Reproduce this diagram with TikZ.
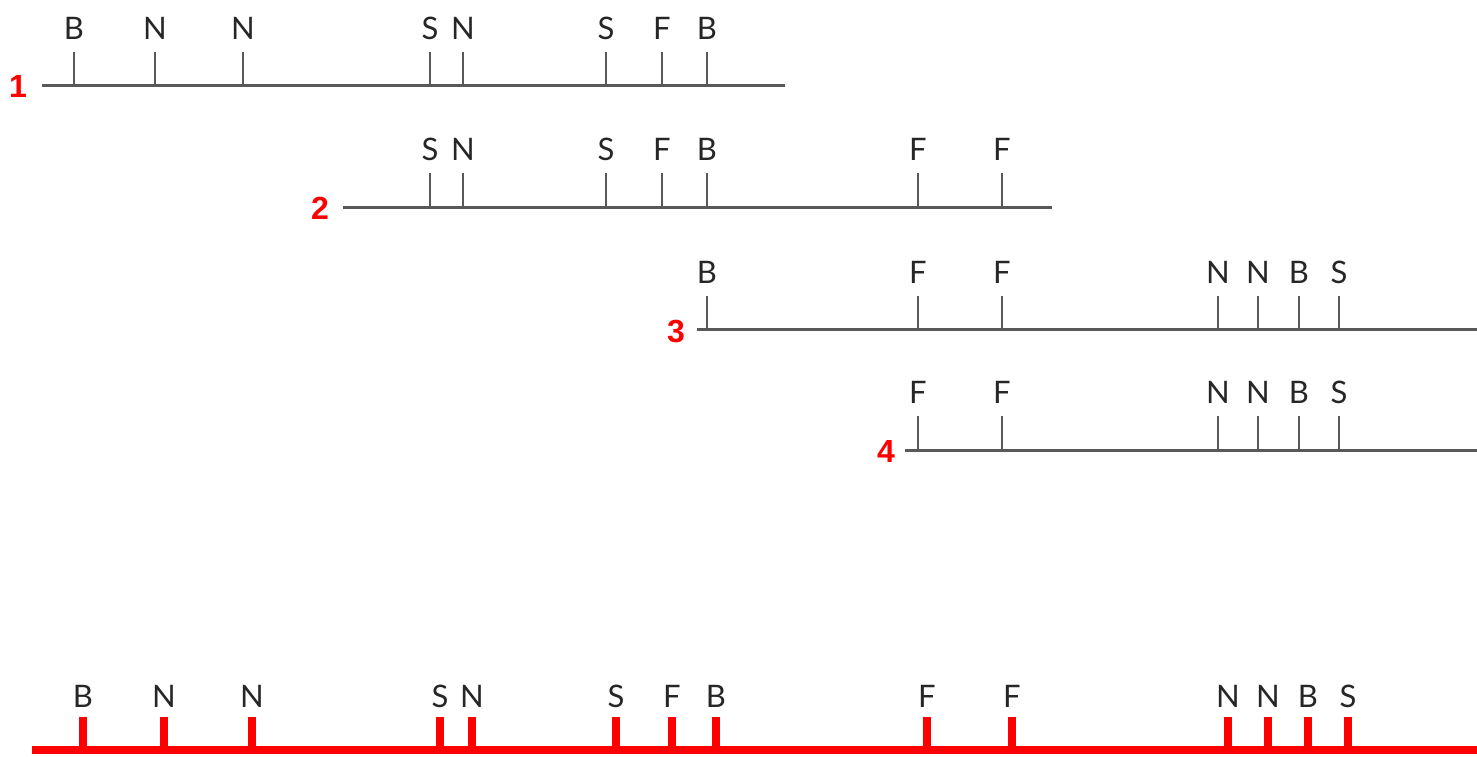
\documentclass[tikz,border=0pt]{standalone}
\usepackage{fontspec}
\setmainfont{Lato}
\newfontfamily\numfont{Liberation Sans}

\begin{document}
\begin{tikzpicture}[x=0.5pt, y=-0.5pt]
  \tikzset{
    axis/.style={draw=black!65, line width=1.5pt},
    tick/.style={draw=black!65, line width=1.4pt},
    redaxis/.style={draw=red, line width=4.4pt},
    redtick/.style={draw=red, line width=4pt},
    lbl/.style={font=\fontsize{15.5}{18}\selectfont, text=black!85, anchor=base, inner sep=0pt},
    num/.style={font=\numfont\bfseries\fontsize{16}{18}\selectfont, text=red, inner sep=0pt}
  }
  \useasboundingbox (0,0) rectangle (1477,756);

  % Row 1
  \coordinate (r1s) at (42,85); \coordinate (r1e) at (785,85);
  \draw[axis] (r1s) -- (r1e);
  \node[num] (n1) at (18,86) {1};
  \foreach \x/\l [count=\i] in {74/B,155/N,243/N,430/S,463/N,606/S,662/F,707/B}{
    \coordinate (r1t\i) at (\x,52);
    \draw[tick] (r1t\i) -- (r1t\i |- r1s);
    \node[lbl] (r1l\i) at (\x,39) {\l};
  }

  % Row 2
  \coordinate (r2s) at (343,207); \coordinate (r2e) at (1052,207);
  \draw[axis] (r2s) -- (r2e);
  \node[num] (n2) at (320,208) {2};
  \foreach \x/\l [count=\i] in {430/S,463/N,606/S,662/F,707/B,918/F,1002/F}{
    \coordinate (r2t\i) at (\x,173);
    \draw[tick] (r2t\i) -- (r2t\i |- r2s);
    \node[lbl] (r2l\i) at (\x,160) {\l};
  }

  % Row 3
  \coordinate (r3s) at (697,329); \coordinate (r3e) at (1477,329);
  \draw[axis] (r3s) -- (r3e);
  \node[num] (n3) at (676,331) {3};
  \foreach \x/\l [count=\i] in {707/B,918/F,1002/F,1218/N,1258/N,1299/B,1339/S}{
    \coordinate (r3t\i) at (\x,296);
    \draw[tick] (r3t\i) -- (r3t\i |- r3s);
    \node[lbl] (r3l\i) at (\x,283) {\l};
  }

  % Row 4
  \coordinate (r4s) at (905,450); \coordinate (r4e) at (1477,450);
  \draw[axis] (r4s) -- (r4e);
  \node[num] (n4) at (886,451) {4};
  \foreach \x/\l [count=\i] in {918/F,1002/F,1218/N,1258/N,1299/B,1339/S}{
    \coordinate (r4t\i) at (\x,416);
    \draw[tick] (r4t\i) -- (r4t\i |- r4s);
    \node[lbl] (r4l\i) at (\x,403) {\l};
  }

  % Combined row
  \coordinate (rcs) at (32,750); \coordinate (rce) at (1477,750);
  \draw[redaxis] (rcs) -- (rce);
  \foreach \x/\l [count=\i] in {83/B,164/N,252/N,440/S,472/N,616/S,672/F,716/B,927/F,1012/F,1228/N,1268/N,1308/B,1348/S}{
    \coordinate (rct\i) at (\x,717);
    \draw[redtick] (rct\i) -- (rct\i |- rcs);
    \node[lbl] (rcl\i) at (\x,707) {\l};
  }

\end{tikzpicture}
\end{document}
